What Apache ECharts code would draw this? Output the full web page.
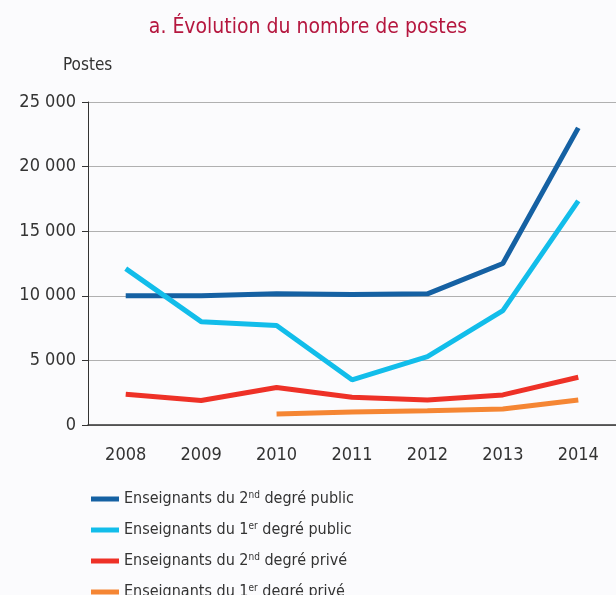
<!DOCTYPE html>
<html>
<head>
    <meta charset="utf-8">
    <title>ECharts</title>
    <script src="https://cdn.jsdelivr.net/npm/echarts@6/dist/echarts.min.js"></script>
    <style>
        body { margin: 0; background: #fbfbfd; }
    </style>
</head>
<body>
    <div id="main" style="width: 616px;height:595px;"></div>
    <script type="text/javascript">
        var years = ['2008', '2009', '2010', '2011', '2012', '2013', '2014'];
        var secondPublic = [10000, 10000, 10150, 10100, 10150, 12500, 23000];
        var firstPublic = [12100, 8000, 7700, 3500, 5300, 8850, 17350];
        var secondPrive = [2380, 1890, 2900, 2140, 1940, 2330, 3700];
        var firstPrive = ['-', '-', 850, 1000, 1100, 1240, 1940];

        var names = ['2nd public', '1er public', '2nd prive', '1er prive'];
        var legendText = {
            '2nd public': 'Enseignants du 2{sup|nd} degré public',
            '1er public': 'Enseignants du 1{sup|er} degré public',
            '2nd prive': 'Enseignants du 2{sup|nd} degré privé',
            '1er prive': 'Enseignants du 1{sup|er} degré privé'
        };

        var font = "'DejaVu Sans Condensed', Roboto, sans-serif";

        var dom = document.getElementById('main');
        var myChart = echarts.init(dom);

        function mkLine(name, data, color) {
            return {
                name: name,
                type: 'line',
                data: data,
                symbol: 'none',
                lineStyle: { color: color, width: 5 },
                itemStyle: { color: color }
            };
        }

        // une légende par série, pour garder la colonne unique
        var legends = names.map(function (n, i) {
            return {
                left: 86,
                top: 485 + i * 31,
                itemWidth: 28,
                itemHeight: 5,
                icon: 'rect',
                data: [n],
                formatter: function (x) { return legendText[x]; },
                textStyle: {
                    color: '#333',
                    fontSize: 16,
                    fontFamily: font,
                    rich: {
                        sup: { fontSize: 10, verticalAlign: 'top', padding: [0, 0, 8, 0], color: '#333', fontFamily: font }
                    }
                }
            };
        });

        var option = {
            backgroundColor: '#fbfbfd',
            textStyle: { fontFamily: font },
            title: [{
                text: 'a. Évolution du nombre de postes',
                left: 'center',
                top: 12,
                textStyle: { color: '#b5173f', fontSize: 21, fontWeight: 'normal', fontFamily: font }
            }, {
                text: 'Postes',
                left: 58,
                top: 52,
                textStyle: { color: '#333', fontSize: 17, fontWeight: 'normal', fontFamily: font }
            }],
            legend: legends,
            grid: {
                left: 88,
                top: 102,
                width: 532,
                height: 323
            },
            xAxis: {
                type: 'category',
                data: years,
                axisLine: { lineStyle: { color: '#333', width: 1.5 } },
                axisTick: { length: 12, lineStyle: { color: '#333' } },
                axisLabel: { color: '#333', fontSize: 18, margin: 21, fontFamily: font }
            },
            yAxis: {
                type: 'value',
                min: 0,
                max: 25000,
                interval: 5000,
                axisLine: { show: true, lineStyle: { color: '#333', width: 1 } },
                axisTick: { show: true, length: 6, lineStyle: { color: '#333' } },
                axisLabel: {
                    color: '#333',
                    fontSize: 18,
                    margin: 12,
                    fontFamily: font,
                    formatter: function (v) {
                        return String(v).replace(/\B(?=(\d{3})+(?!\d))/g, ' ');
                    }
                },
                splitLine: { lineStyle: { color: '#b0b0b0', width: 1 } }
            },
            series: [
                mkLine(names[0], secondPublic, '#1561a3'),
                mkLine(names[1], firstPublic, '#12bdea'),
                mkLine(names[2], secondPrive, '#ee3127'),
                mkLine(names[3], firstPrive, '#f58634')
            ]
        };

        myChart.setOption(option);
    </script>
</body>
</html>
